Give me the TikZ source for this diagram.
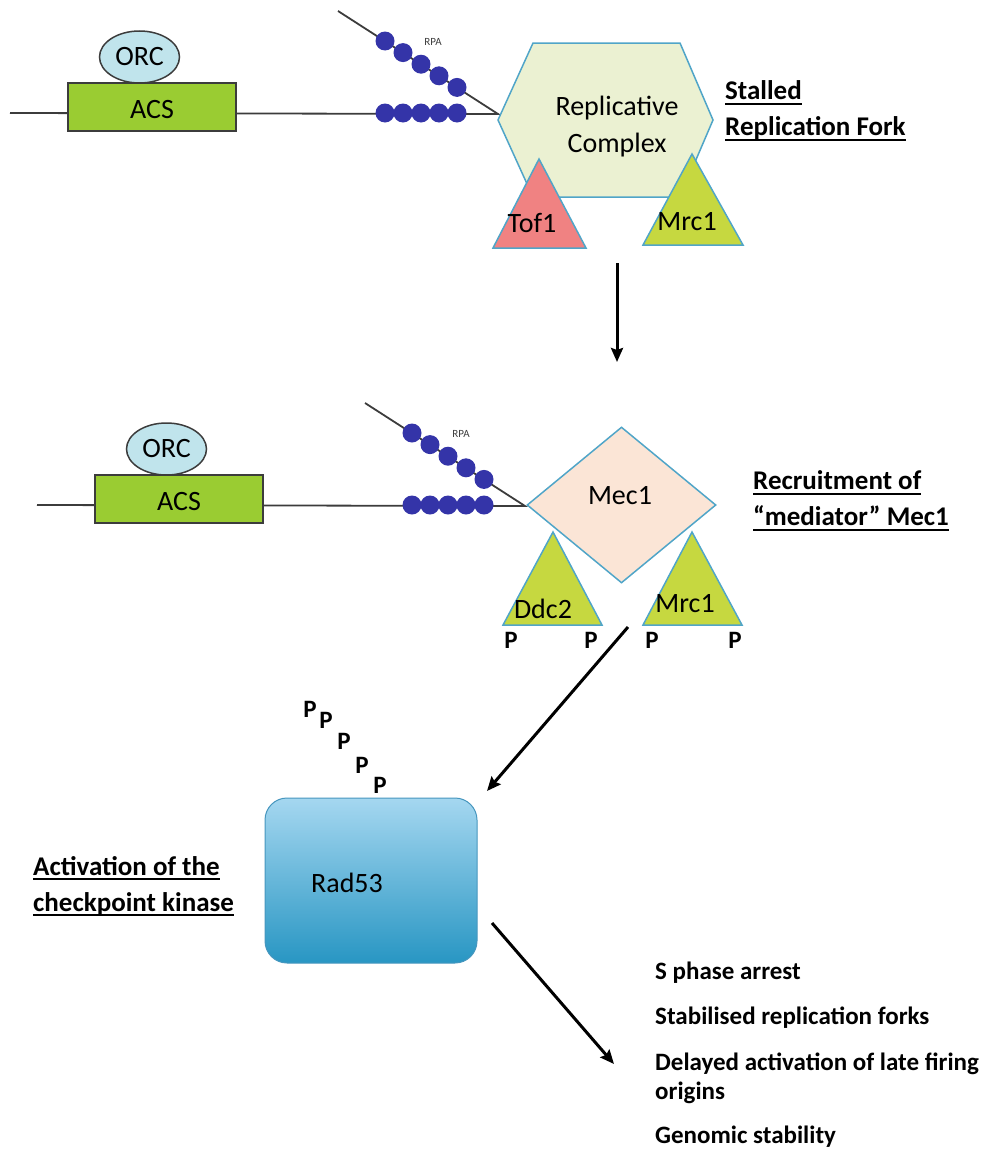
\documentclass[tikz,border=0pt]{standalone}
\usepackage{fontspec}
\setmainfont{Carlito}
\usetikzlibrary{arrows.meta,shapes.geometric}
\newsavebox{\ulbox}
\newcommand{\ulbar}[1]{\sbox{\ulbox}{#1}\rlap{\rule[-5pt]{\wd\ulbox}{2.4pt}}\usebox{\ulbox}}

\definecolor{dnagray}{RGB}{60,60,60}
\definecolor{acsgreen}{RGB}{154,204,50}
\definecolor{orcblue}{RGB}{192,228,236}
\definecolor{rpablue}{RGB}{52,52,168}
\definecolor{edgeblue}{RGB}{80,165,200}
\definecolor{cmplxfill}{RGB}{235,241,210}
\definecolor{tofpink}{RGB}{240,130,130}
\definecolor{mrcgreen}{RGB}{198,216,64}
\definecolor{mecpeach}{RGB}{251,229,214}
\definecolor{radtop}{RGB}{165,215,240}
\definecolor{radbot}{RGB}{40,150,195}
\definecolor{radedge}{RGB}{70,150,190}

\begin{document}
\begin{tikzpicture}[x=1pt, y=-1pt,
    lbl/.style={font=\fontsize{28}{37}\selectfont, inner sep=0pt, align=center},
    head/.style={font=\bfseries\fontsize{27}{36}\selectfont, inner sep=0pt, align=left, anchor=west},
    res/.style={font=\bfseries\fontsize{25}{29}\selectfont, inner sep=0pt, align=left, anchor=west},
    pho/.style={font=\bfseries\fontsize{25}{25}\selectfont, inner sep=0pt},
    dna/.style={draw=dnagray, line width=1.8pt},
    acs/.style={draw=dnagray, fill=acsgreen, line width=1.5pt},
    orc/.style={draw=dnagray, fill=orcblue, line width=1.5pt},
    rpa/.style={fill=rpablue},
    prot/.style={draw=edgeblue, line width=1.5pt},
    arr/.style={line width=3pt, -{Stealth[length=14pt,width=12pt,inset=2pt]}}]
  \useasboundingbox (0,0) rectangle (983,1151);

  % stalled replication fork
  \coordinate (dnaA) at (10,113);
  \coordinate (forkA) at (498,114);
  \coordinate (ssA) at (338,11);
  \draw[dna] (dnaA) -- (forkA) -- (ssA);
  \draw[acs] (68,83) rectangle (236,131);
  \draw[orc] (139.5,57) ellipse [x radius=40pt, y radius=26pt];
  \node[lbl] (orcA) at (139.5,57) {ORC};
  \node[lbl] (acsA) at (152,110) {ACS};
  \foreach \i in {0,...,4} {
    \fill[rpa] ({385+18*\i},113) circle (9.5pt);
    \fill[rpa] ({385+18*\i},{41+11.6*\i}) circle (9.5pt);
  }
  \node[font=\fontsize{11}{11}\selectfont, text=dnagray] (rpaA) at (433,42) {RPA};
  \draw[prot, fill=cmplxfill] (533,43) -- (680,43) -- (713,120) -- (680,197) -- (533,197) -- (498,120) -- cycle;
  \node[lbl] (cmplx) at (617,127) {Replicative\\Complex};
  \draw[prot, fill=tofpink] (539,159) -- (586,248) -- (493,248) -- cycle;
  \draw[prot, fill=mrcgreen] (692,154) -- (743,245) -- (643,245) -- cycle;
  \node[lbl] (tof) at (532,223) {Tof1};
  \node[lbl] (mrcA) at (687,222) {Mrc1};
  \node[head] (stall) at (725,111) {\ulbar{Stalled}\\\ulbar{Replication Fork}};

  \coordinate (a1s) at (617,263);
  \coordinate (a1e) at (617,362);
  \draw[arr] (a1s) -- (a1e);

  % recruitment of Mec1
  \coordinate (dnaB) at (37,505);
  \coordinate (forkB) at (525,506);
  \coordinate (ssB) at (365,403);
  \draw[dna] (dnaB) -- (forkB) -- (ssB);
  \draw[acs] (95,475) rectangle (263,523);
  \draw[orc] (166.5,449) ellipse [x radius=40pt, y radius=26pt];
  \node[lbl] (orcB) at (166.5,449) {ORC};
  \node[lbl] (acsB) at (179,502) {ACS};
  \foreach \i in {0,...,4} {
    \fill[rpa] ({412+18*\i},505) circle (9.5pt);
    \fill[rpa] ({412+18*\i},{433+11.6*\i}) circle (9.5pt);
  }
  \node[font=\fontsize{11}{11}\selectfont, text=dnagray] (rpaB) at (461,434) {RPA};
  \node[diamond, prot, fill=mecpeach, minimum width=189pt, minimum height=156pt, inner sep=0pt] (mec) at (621.5,505) {};
  \node[lbl] (mectxt) at (620,496) {Mec1};
  \draw[prot, fill=mrcgreen] (553,532) -- (602,625) -- (503,625) -- cycle;
  \draw[prot, fill=mrcgreen] (692,532) -- (742,625) -- (643,625) -- cycle;
  \node[lbl] (ddc) at (543,609) {Ddc2};
  \node[lbl] (mrcB) at (685,604) {Mrc1};
  \node[pho] (pB1) at (511,640) {P};
  \node[pho] (pB2) at (591,640) {P};
  \node[pho] (pB3) at (652,640) {P};
  \node[pho] (pB4) at (735,640) {P};
  \node[head] (recruit) at (753,501) {\ulbar{Recruitment of}\\\ulbar{“mediator” Mec1}};

  \coordinate (a2s) at (628,627);
  \coordinate (a2e) at (487,791);
  \draw[arr] (a2s) -- (a2e);

  % activation of Rad53
  \node[rectangle, draw=radedge, line width=1pt, rounded corners=22pt,
        top color=radtop, bottom color=radbot,
        minimum width=212pt, minimum height=165pt] (rad) at (371,880.5) {};
  \node[lbl] (radtxt) at (347,883) {Rad53};
  \node[pho] (pR1) at (310,709) {P};
  \node[pho] (pR2) at (326,720) {P};
  \node[pho] (pR3) at (344,741) {P};
  \node[pho] (pR4) at (362,765) {P};
  \node[pho] (pR5) at (380,785) {P};
  \node[head] (activ) at (33,886) {\ulbar{Activation of the}\\\ulbar{checkpoint kinase}};

  \coordinate (a3s) at (492,923);
  \coordinate (a3e) at (614,1064);
  \draw[arr] (a3s) -- (a3e);

  % outcomes
  \node[res] (out1) at (655,973) {S phase arrest};
  \node[res] (out2) at (655,1018) {Stabilised replication forks};
  \node[res] (out3) at (655,1078) {Delayed activation of late firing\\origins};
  \node[res] (out4) at (655,1137) {Genomic stability};
\end{tikzpicture}
\end{document}
